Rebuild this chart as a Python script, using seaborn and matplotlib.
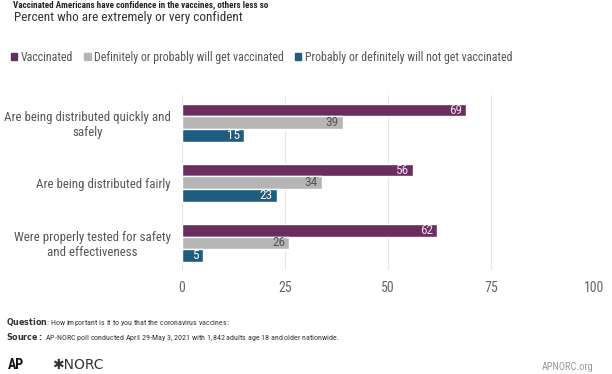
import matplotlib.pyplot as plt
from matplotlib import font_manager
import seaborn as sns
import pandas as pd

# data
statements = [
    "Are being distributed quickly and\nsafely",
    "Are being distributed fairly",
    "Were properly tested for safety\nand effectiveness",
]
groups = [
    "Vaccinated",
    "Definitely or probably will get vaccinated",
    "Probably or definitely will not get vaccinated",
]
vaccinated = [69, 56, 62]
will_get = [39, 34, 26]
will_not = [15, 23, 5]
x_ticks = [0, 25, 50, 75, 100]

colors = ["#692d5f", "#b5b5b5", "#1e5d7f"]
label_colors = ["#f3dcec", "#555555", "#ffffff"]

df = pd.DataFrame({
    "statement": statements * 3,
    "group": [g for g in groups for _ in statements],
    "value": vaccinated + will_get + will_not,
})

# pick a condensed face if one is around
installed = {f.name for f in font_manager.fontManager.ttflist}
narrow = next((f for f in ["Roboto Condensed", "Liberation Sans Narrow", "Arial Narrow"]
               if f in installed), "Roboto")

sns.set_style("white")
plt.rcParams["font.family"] = [narrow, "DejaVu Sans"]

fig = plt.figure(figsize=(6.12, 3.74), dpi=100)
ax = fig.add_axes([0.2974, 0.278, 0.6732, 0.468])

sns.barplot(data=df, y="statement", x="value", hue="group", order=statements,
            hue_order=groups, palette=colors, width=0.63, orient="h",
            saturation=1, ax=ax, legend=False)

# value labels inside the end of each bar
for cont, lc in zip(ax.containers, label_colors):
    ax.bar_label(cont, labels=[f"{v:.0f}" for v in cont.datavalues],
                 padding=-3, color=lc, fontsize=9.5, label_type="edge")
    for t in ax.texts[-len(cont.datavalues):]:
        t.set_ha("right")

ax.set_xlim(0, 100)
ax.set_ylim(2.45, -0.46)
ax.set_xticks(x_ticks)
ax.set_xticklabels([str(t) for t in x_ticks], color="#666666", fontsize=10)
ax.tick_params(axis="x", length=0, pad=8)
ax.tick_params(axis="y", length=0, pad=8)
for lbl in ax.get_yticklabels():
    lbl.set_multialignment("center")
    lbl.set_color("#555555")
    lbl.set_fontsize(9.3)
ax.set_xlabel("")
ax.set_ylabel("")
ax.grid(axis="x", color="#e6e6e6", linewidth=0.8)
ax.set_axisbelow(True)
for s in ax.spines.values():
    s.set_visible(False)

# header
fig.text(0.022, 0.999, "Vaccinated Americans have confidence in the vaccines, others less so",
         fontsize=6.5, fontweight="bold", color="#222222", va="top")
fig.text(0.023, 0.953, "Percent who are extremely or very confident",
         fontsize=9.5, color="#333333", va="center")

# legend
handles = [plt.Rectangle((0, 0), 1, 1, color=c) for c in colors]
fig.legend(handles, groups, loc="center left", bbox_to_anchor=(0.0, 0.847), ncol=3,
           frameon=False, fontsize=8.6, handlelength=0.55, handleheight=0.55,
           handletextpad=0.3, columnspacing=0.9, labelcolor="#555555")

# footer
fig.text(0.009, 0.138, r"$\bf{Question}$: How important is it to you that the coronavirus vaccines:",
         fontsize=5.8, color="#333333", va="center")
fig.text(0.009, 0.098, r"$\bf{Source:}$ AP-NORC poll conducted April 29-May 3, 2021 with 1,842 adults age 18 and older nationwide.",
         fontsize=5.8, color="#333333", va="center")
fig.text(0.012, 0.025, "AP", fontsize=10, fontweight="bold", color="#111111", va="center")
fig.text(0.085, 0.025, "\u2731NORC", fontsize=10, color="#333333", va="center",
         family=["DejaVu Sans"])
fig.text(0.885, 0.02, "APNORC.org", fontsize=7.5, color="#999999", va="center")

fig.savefig("out.png", dpi=100)
